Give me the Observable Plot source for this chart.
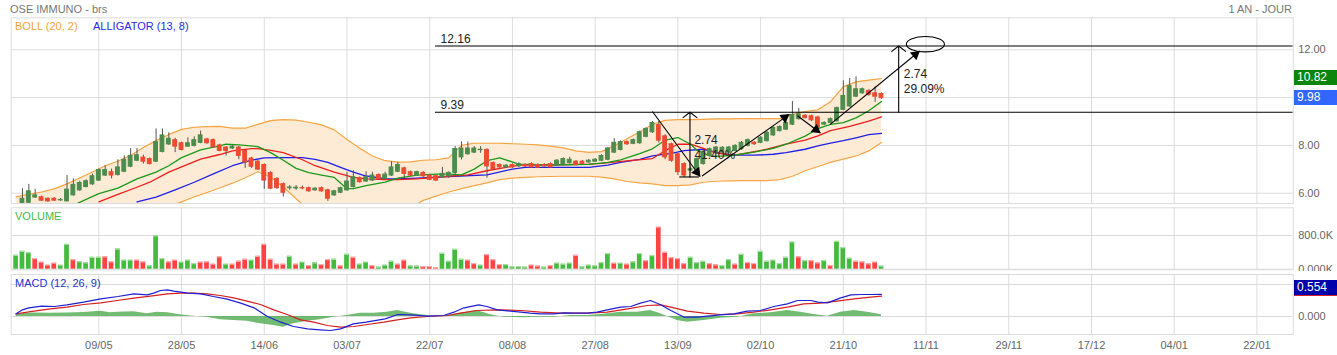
<!DOCTYPE html>
<html>
<head>
<meta charset="utf-8">
<script src="https://cdn.jsdelivr.net/npm/d3@7"></script>
<script src="https://cdn.jsdelivr.net/npm/@observablehq/plot@0.6"></script>
<style>
html,body{margin:0;padding:0;background:#fff;overflow:hidden;}
#wrap{position:relative;width:1337px;height:355px;background:#fff;font-family:"Liberation Sans",Arial,sans-serif;}
#wrap svg{position:absolute;left:0;}
.t{position:absolute;white-space:nowrap;font-size:11px;line-height:14px;}
.box{position:absolute;left:1294px;width:43px;height:15px;line-height:15px;color:#fff;font-size:12px;padding-left:3px;box-sizing:border-box;}
</style>
</head>
<body>
<div id="wrap"></div>
<script>
// ---------- DATA ----------
const xTickIdx = [13,26,39,52,65,78,91,104,117,130,143,156,169,182,195];
const xTickLabels = ["09/05","28/05","14/06","03/07","22/07","08/08","27/08","13/09","02/10","21/10","11/11","29/11","17/12","04/01","22/01"];

const opens = [5.30,5.50,5.60,5.82,5.83,5.77,5.77,5.70,5.66,5.91,
6.12,6.26,6.37,6.53,6.74,6.88,6.76,6.90,7.11,7.36,
7.49,7.43,7.32,7.73,8.04,8.22,8.09,7.95,7.98,8.11,
8.25,8.22,8.00,7.91,7.87,7.91,7.77,7.45,7.32,7.18,
6.85,6.60,6.38,6.21,6.20,6.22,6.21,6.12,6.21,6.12,
5.91,6.02,6.12,6.26,6.63,6.49,6.53,6.76,6.60,6.74,
6.90,7.04,6.88,6.74,6.85,6.74,6.71,6.67,6.71,6.85,
7.50,7.63,7.70,7.80,7.81,7.26,7.18,7.08,7.18,7.12,
7.18,7.22,7.18,7.18,7.22,7.18,7.18,7.26,7.32,7.32,
7.29,7.32,7.36,7.40,7.70,7.81,8.14,8.07,8.09,8.36,
8.55,8.85,8.38,8.05,7.63,7.22,6.95,7.00,7.22,7.56,
7.70,7.70,7.70,7.77,7.84,7.98,8.11,8.11,8.18,8.42,
8.60,8.66,8.87,9.10,9.24,9.22,9.17,8.87,8.94,9.01,
9.49,9.63,10.04,10.18,10.28,10.18,10.15];
const highs = [5.55,6.19,6.37,6.16,5.88,5.80,5.82,5.78,6.74,6.60,
6.50,6.56,6.80,7.02,7.15,7.01,7.40,7.56,7.87,7.87,
7.59,7.48,8.69,8.69,8.53,8.30,8.14,8.32,8.36,8.60,
8.30,8.27,8.05,7.96,8.00,7.96,7.82,7.50,7.37,7.23,
6.90,6.65,6.43,6.32,6.32,6.30,6.26,6.23,6.26,6.17,
6.12,6.25,6.88,6.94,6.68,6.90,6.88,6.81,6.88,7.32,
7.29,7.09,6.93,6.92,6.90,6.79,6.76,7.08,6.89,7.95,
8.15,8.14,7.95,7.95,7.86,7.31,7.23,7.20,7.23,7.27,
7.23,7.27,7.23,7.23,7.27,7.41,7.48,7.50,7.37,7.37,
7.41,7.45,7.61,7.92,8.28,8.19,8.19,8.27,8.60,8.74,
9.00,9.00,8.45,8.10,7.68,7.27,7.10,7.48,7.75,7.89,
7.96,7.95,7.96,8.03,8.16,8.27,8.16,8.37,8.58,8.78,
8.82,8.99,9.84,9.55,9.29,9.27,9.22,8.99,9.15,9.61,
10.70,10.80,10.87,10.40,10.33,10.46,10.20];
const lows = [5.25,5.45,5.55,5.78,5.65,5.62,5.66,5.66,5.63,5.88,
6.08,6.22,6.33,6.49,6.70,6.60,6.72,6.86,7.07,7.32,
7.22,7.18,7.28,7.69,8.00,7.70,7.77,7.91,7.94,8.07,
8.05,7.88,7.73,7.56,7.83,7.40,7.04,7.04,6.95,6.16,
6.15,6.17,5.84,6.12,6.12,6.14,6.04,6.08,6.04,5.66,
5.87,5.98,6.08,6.22,6.42,6.45,6.49,6.56,6.56,6.70,
6.86,6.60,6.70,6.70,6.67,6.52,6.49,6.63,6.62,6.72,
7.39,7.59,7.66,7.67,6.63,6.97,7.04,7.04,7.04,7.08,
7.08,7.04,7.03,7.08,7.04,7.14,7.14,7.22,7.14,7.19,
7.25,7.28,7.32,7.36,7.66,7.77,8.00,8.03,8.05,8.32,
8.50,8.10,7.40,7.30,6.74,6.66,6.90,6.96,7.18,7.52,
7.66,7.66,7.66,7.73,7.80,7.94,8.00,8.07,8.14,8.38,
8.56,8.62,8.83,9.06,9.10,9.00,8.60,8.83,8.90,8.97,
9.45,9.59,10.00,10.14,10.06,9.80,9.93];
const closes = [5.50,5.77,6.08,5.91,5.69,5.66,5.69,5.72,6.15,6.35,
6.43,6.50,6.71,6.97,6.97,6.74,7.08,7.40,7.56,7.59,
7.32,7.22,8.14,8.42,8.28,7.95,7.81,8.09,8.22,8.42,
8.09,7.92,7.77,7.77,7.95,7.56,7.29,7.11,6.99,6.53,
6.19,6.21,6.02,6.24,6.23,6.20,6.08,6.19,6.08,5.77,
6.08,6.21,6.49,6.67,6.46,6.67,6.74,6.60,6.78,7.08,
7.18,6.81,6.74,6.88,6.71,6.56,6.53,6.81,6.85,7.85,
7.87,7.87,7.87,7.82,7.12,7.01,7.08,7.15,7.08,7.22,
7.12,7.08,7.07,7.12,7.08,7.36,7.43,7.40,7.18,7.23,
7.36,7.40,7.56,7.87,8.11,8.14,8.05,8.22,8.55,8.69,
8.94,8.20,7.50,7.36,6.88,6.74,7.00,7.43,7.70,7.84,
7.91,7.90,7.91,7.98,8.11,8.22,8.05,8.32,8.53,8.73,
8.77,8.94,9.28,9.30,9.15,9.05,8.75,8.94,9.10,9.56,
10.07,10.48,10.35,10.35,10.11,10.04,9.98];

// volume in thousands, and up(1)/down(0)
const volumesK = [329,424,392,251,165,94,141,94,588,227,
180,149,282,282,290,172,478,212,212,212,
172,78,792,251,172,212,165,212,133,165,
172,118,290,118,118,188,235,212,306,588,
235,118,118,306,118,165,86,149,110,227,
235,78,353,282,118,165,86,47,94,188,
118,212,78,71,63,63,31,376,188,470,
235,212,133,94,345,227,110,110,55,63,
47,94,71,47,86,141,118,141,329,55,
94,78,157,369,141,141,118,172,369,204,
322,996,400,275,251,133,282,157,188,133,
102,86,227,118,353,157,133,424,188,212,
133,282,643,290,204,204,149,204,86,659,
510,259,188,172,125,165,71];
const volUp = [1,1,1,0,0,0,0,1,1,0,
1,1,1,1,0,0,1,1,1,0,
0,1,1,1,0,0,1,1,1,0,
0,0,0,1,0,0,0,1,0,0,
0,0,0,1,0,1,0,1,0,0,
1,0,1,0,1,1,0,1,1,1,
0,0,1,1,0,0,0,1,1,1,
1,0,0,1,0,0,0,1,1,1,
1,0,0,1,0,1,1,1,0,1,
1,1,1,1,0,1,0,1,1,0,
1,0,0,0,0,0,1,1,1,0,
0,1,1,0,1,0,0,1,1,1,
1,1,1,0,1,0,0,1,0,1,
1,1,0,0,0,0,1];

// Bollinger (20,2)
const bollIdx = [0,2,4,6,8,10,12,14,16,18,20,22,24,26,28,30,32,34,36,38,40,42,44,46,48,50,52,54,56,58,60,62,64,66,68,70,72,74,76,78,80,82,84,86,88,90,92,94,96,98,100,102,104,106,108,110,112,114,116,118,120,122,124,126,128,130,132,134,136];
const bollUpper = [5.85,5.95,6.05,6.18,6.39,6.64,6.89,7.15,7.34,7.58,
7.91,8.20,8.45,8.67,8.76,8.79,8.80,8.72,8.72,8.88,
9.04,9.08,9.06,8.97,8.86,8.65,8.25,7.88,7.56,7.36,
7.30,7.31,7.38,7.40,7.48,8.00,8.09,8.09,8.09,8.07,
8.05,8.02,7.97,7.90,7.77,7.71,7.74,7.98,8.28,8.56,
8.88,9.05,9.08,9.08,9.09,9.11,9.11,9.12,9.12,9.12,
9.12,9.29,9.42,9.49,9.83,10.45,10.66,10.73,10.80];
const bollLower = [5.30,5.25,5.20,5.15,5.05,5.00,4.95,4.92,4.95,5.02,
5.10,5.25,5.45,5.64,5.85,6.03,6.22,6.42,6.65,6.90,
6.67,6.26,5.77,5.30,5.05,4.95,4.95,5.00,5.05,5.15,
5.25,5.40,5.70,5.88,6.05,6.19,6.32,6.43,6.57,6.63,
6.66,6.69,6.70,6.71,6.71,6.71,6.67,6.60,6.49,6.43,
6.39,6.32,6.32,6.35,6.46,6.50,6.52,6.53,6.53,6.53,
6.57,6.71,6.94,7.12,7.29,7.43,7.56,7.77,8.12];

// Alligator (13, 8)
const lipsIdx = [9,13,16,19,22,24,26,29,32,33,35,38,40,42,44,46,48,50,52,53,55,58,60,63,66,68,70,72,74,76,79,84,90,93,95,98,100,102,104,106,107,109,111,113,116,119,121,124,126,128,130,132,134,136];
const lipsVal = [5.50,5.98,6.21,6.60,6.88,7.15,7.49,7.81,7.98,8.05,8.02,7.95,7.70,7.38,7.04,6.86,6.76,6.66,6.19,6.19,6.32,6.46,6.63,6.76,6.80,6.80,6.77,7.01,7.36,7.48,7.22,7.18,7.21,7.29,7.40,7.66,7.86,8.22,8.33,8.05,7.80,7.56,7.55,7.60,7.72,7.88,8.05,8.39,8.70,8.88,8.95,9.15,9.45,9.84];
const teethIdx = [13,16,19,21,24,26,29,32,34,37,38,40,42,45,47,50,53,55,58,60,63,66,68,71,74,77,79,84,90,92,96,100,102,104,106,108,110,113,118,121,124,126,128,131,134,136];
const teethVal = [5.64,5.95,6.25,6.46,6.88,7.10,7.43,7.62,7.77,7.87,7.87,7.79,7.70,7.40,7.15,6.88,6.66,6.60,6.57,6.57,6.60,6.66,6.71,6.77,6.94,7.08,7.18,7.18,7.22,7.25,7.35,7.45,7.78,8.05,8.05,7.88,7.68,7.59,7.84,8.05,8.22,8.40,8.62,8.80,9.02,9.19];
const jawIdx = [19,22,25,28,31,34,37,39,42,45,47,49,51,53,55,58,60,63,66,69,74,78,80,85,90,93,95,98,100,103,105,108,111,113,116,119,121,124,126,128,130,132,134,136];
const jawVal = [5.64,5.84,6.14,6.46,6.81,7.15,7.38,7.48,7.49,7.49,7.42,7.29,7.08,6.88,6.72,6.61,6.60,6.63,6.67,6.71,6.77,7.01,7.08,7.08,7.08,7.18,7.29,7.42,7.56,7.67,7.78,7.84,7.66,7.59,7.59,7.63,7.70,7.84,7.98,8.10,8.20,8.32,8.45,8.50];

// MACD (12, 26, 9)
const macdIdx = [0,1,2,4,6,8,10.6,13.3,16,18.5,20.6,21.6,22.7,23.8,24.8,27,29,31,33,35.3,37.4,39.5,41.6,43.6,45.8,47.8,49.4,51,53,55,58,60,62,64.6,67.2,68.8,70.4,72.7,74,75.6,77.7,79.3,80.8,82.4,84.5,86.1,87.7,89.8,91.3,92.9,95,96.6,98.1,99.7,101.3,102.9,105,107.1,108.6,110.7,112.8,114.9,117,119.1,121.2,122.8,124.9,126,127.5,129.6,131.2,132.8,134.3,136];
const macdVal = [0.07,0.167,0.217,0.258,0.25,0.292,0.358,0.442,0.5,0.567,0.542,0.583,0.65,0.667,0.633,0.583,0.567,0.5,0.442,0.333,0.217,0,-0.142,-0.25,-0.308,-0.333,-0.35,-0.308,-0.183,-0.142,-0.058,0.05,0.042,0.008,0.025,0.108,0.217,0.292,0.25,0.167,0.133,0.108,0.083,0.067,0.067,0.092,0.083,0.083,0.108,0.167,0.233,0.25,0.333,0.4,0.292,0.15,-0.017,-0.017,0.008,0.042,0.067,0.133,0.15,0.25,0.317,0.4,0.4,0.358,0.342,0.467,0.542,0.55,0.55,0.554];
const signalIdx = [0,2.8,5.4,8,10.6,13.3,15.9,18.5,21.1,23.8,25.8,27.9,30,32.1,34.2,36.3,38.4,40.5,42.6,44.7,46.8,48.9,51,53.1,55.2,57.8,59.9,62,64.6,67.8,69.8,72.4,75.6,79.3,82.4,85.6,89.8,92.9,96.1,99.2,101.3,103.4,105.5,108.1,110.7,113.3,115.9,118.6,121.2,123.8,126.4,129,131.7,134.3,136];
const signalVal = [0.067,0.133,0.192,0.233,0.3,0.342,0.4,0.458,0.508,0.567,0.583,0.583,0.567,0.525,0.467,0.383,0.3,0.167,0.05,-0.083,-0.142,-0.225,-0.267,-0.25,-0.2,-0.142,-0.083,-0.033,0,0.025,0.083,0.15,0.167,0.15,0.108,0.083,0.083,0.108,0.192,0.275,0.292,0.217,0.133,0.083,0.05,0.067,0.108,0.167,0.233,0.317,0.333,0.383,0.442,0.483,0.508];
const histIdx = [0,2.8,5.4,8,10.6,13.3,14.8,16,18.5,20.6,22.2,23.8,25.8,27.9,30,32.1,34.2,36.3,38.4,40.5,42,43.6,45.8,47.8,49.9,52,54.1,56.2,58.3,59.9,62,63.6,65.6,67.8,69.8,72.4,74.6,76.7,79.3,81.9,84.5,87.1,89.8,91.9,95,97.6,99.7,101.3,103.9,105.5,108.1,110.7,113.3,115.9,118.6,121.2,123.3,125.4,127.5,129.6,131.7,133.8,136];
const histVal = [0.06,0.09,0.083,0.09,0.1,0.133,0.092,0.108,0.117,0.067,0.108,0.092,0.042,0.008,-0.017,-0.083,-0.1,-0.117,-0.183,-0.225,-0.267,-0.183,-0.117,-0.083,-0.017,0.025,0.083,0.083,0.108,0.15,0.083,0.042,0.008,0.025,0.083,0.15,0.042,-0.017,-0.033,-0.017,-0.017,0.025,0.025,0.05,0.108,0.108,0.15,0.067,-0.1,-0.142,-0.1,-0.042,-0.017,0.067,0.092,0.15,0.108,0.05,0.008,0.108,0.15,0.108,0.042];

// axis ticks (grid) and the tick labels left visible (others sit under value boxes)
const priceGrid = [6, 8, 10, 12];
const priceLabels = [6, 8, 12];
const volTicks = [0, 800000];
const macdGrid = [0, 0.8];
const macdLabels = [0];

// drawn annotations (data units: trading-day index, price)
const levelVals = [12.16, 9.39];
const levelStart = 65.9;
const trendX1 = [100, 107.8, 122.8, 127.9];
const trendY1 = [9.42, 6.72, 9.24, 8.87];
const trendX2 = [107.5, 121.5, 126.4, 142];
const trendY2 = [6.70, 9.30, 8.52, 11.95];
const measureX = [105.9, 138.7];
const measureFrom = [6.68, 9.39];
const measureTo = [9.39, 12.16];
const measureLabelX = [106.6, 139.5];
const measureLabelY1 = [8.21, 11.0];
const measureLabelY2 = [7.60, 10.37];
const measureDiff = ["2.74", "2.74"];
const measurePct = ["41.40%", "29.09%"];
const circleAt = {x: 142.9, y: 12.235};
const lastBoll = 10.82, lastClose = 9.98, lastMacd = 0.554;

// ---------- LAYOUT ----------
const W = 1337;
const ML = 10.7, MR = W - 1292.7;
const xDomain = [-0.77, 200.7];
const gridC = "#dcdcdc";
const font = "'Liberation Sans', Arial, sans-serif";
const wrap = document.getElementById("wrap");

const candles = opens.map((o, i) => ({i, open: o, high: highs[i], low: lows[i], close: closes[i]}));
const boll = bollIdx.map((i, k) => ({i, up: bollUpper[k], lo: bollLower[k]}));
const lips = lipsIdx.map((i, k) => ({i, v: lipsVal[k]}));
const teeth = teethIdx.map((i, k) => ({i, v: teethVal[k]}));
const jaw = jawIdx.map((i, k) => ({i, v: jawVal[k]}));
const vols = volumesK.map((v, i) => ({i, v: v * 1000, up: volUp[i]}));
const macd = macdIdx.map((i, k) => ({i, v: macdVal[k]}));
const signal = signalIdx.map((i, k) => ({i, v: signalVal[k]}));
const hist = histIdx.map((i, k) => ({i, v: histVal[k]}));
const trends = trendX1.map((x1, k) => ({x1, y1: trendY1[k], x2: trendX2[k], y2: trendY2[k]}));
const measures = measureX.map((x, k) => ({x, y1: measureFrom[k], y2: measureTo[k]}));
const measureTexts = [];
measureX.forEach((x, k) => {
  measureTexts.push({x: measureLabelX[k], y: measureLabelY1[k], t: measureDiff[k]});
  measureTexts.push({x: measureLabelX[k], y: measureLabelY2[k], t: measurePct[k]});
});

const yMain = [5.57, 13.34];
const PX_X = (1292.7 - 10.7) / (xDomain[1] - xDomain[0]);
const PX_Y = (203 - 17.3) / (yMain[1] - yMain[0]);
const heads = trends.map(a => {
  const ux = (a.x2 - a.x1) * PX_X, uy = (a.y2 - a.y1) * PX_Y, L = Math.hypot(ux, uy);
  return {x: a.x2 - 5.5 * (ux / L) / PX_X, y: a.y2 - 5.5 * (uy / L) / PX_Y, rot: Math.atan2(ux, uy) * 180 / Math.PI};
});

const ellipseSymbol = {
  draw(ctx, size) {
    const ry = Math.sqrt(size / Math.PI), rx = ry * 2.47, k = 0.5523;
    ctx.moveTo(rx, 0);
    ctx.bezierCurveTo(rx, ry * k, rx * k, ry, 0, ry);
    ctx.bezierCurveTo(-rx * k, ry, -rx, ry * k, -rx, 0);
    ctx.bezierCurveTo(-rx, -ry * k, -rx * k, -ry, 0, -ry);
    ctx.bezierCurveTo(rx * k, -ry, rx, -ry * k, rx, 0);
    ctx.closePath();
  }
};

const baseStyle = {background: "transparent", fontFamily: font, fontSize: "11px", color: "#666"};
const GREEN = "#4c8c4c", RED = "#ee4a30";

// ---------- MAIN PRICE PANEL ----------
const main = Plot.plot({
  width: W, height: 205,
  marginTop: 17.3, marginBottom: 2, marginLeft: ML, marginRight: MR,
  style: baseStyle,
  x: {domain: xDomain, axis: null},
  y: {domain: yMain, axis: "right", ticks: priceLabels, tickFormat: d3.format(".2f"), tickSize: 0, tickPadding: 5, label: null},
  marks: [
    Plot.ruleX(xTickIdx, {stroke: gridC}),
    Plot.ruleY(priceGrid, {stroke: gridC}),
    Plot.areaY(boll, {x: "i", y1: "lo", y2: "up", fill: "#fdebd6", clip: true}),
    Plot.line(boll, {x: "i", y: "up", stroke: "#f7a542", strokeWidth: 1.2, clip: true}),
    Plot.line(boll, {x: "i", y: "lo", stroke: "#f7a542", strokeWidth: 1.2, clip: true}),
    Plot.line(jaw, {x: "i", y: "v", stroke: "#1f1fe6", strokeWidth: 1.3, clip: true}),
    Plot.line(teeth, {x: "i", y: "v", stroke: "#ec1f1f", strokeWidth: 1.3, clip: true}),
    Plot.line(lips, {x: "i", y: "v", stroke: "#1a991a", strokeWidth: 1.3, clip: true}),
    Plot.ruleX(candles, {x: "i", y1: "low", y2: "high", stroke: "#555", strokeWidth: 1, clip: true}),
    Plot.rect(candles, {x1: d => d.i - 0.3, x2: d => d.i + 0.3, y1: "open", y2: "close",
      fill: d => d.close >= d.open ? GREEN : RED, stroke: d => d.close >= d.open ? GREEN : RED, strokeWidth: 1, clip: true}),
    Plot.ruleY(levelVals, {y: d => d, x1: levelStart, x2: xDomain[1], stroke: "#000", strokeWidth: 1.1}),
    Plot.text(levelVals, {x: levelStart + 0.8, y: d => d, text: d => d.toFixed(2), textAnchor: "start", dy: -7, fontSize: 12, fill: "#222"}),
    Plot.link(trends, {x1: "x1", y1: "y1", x2: "x2", y2: "y2", stroke: "#000", strokeWidth: 1.1}),
    Plot.dot(heads, {x: "x", y: "y", rotate: "rot", symbol: "triangle", r: 3.8, fill: "#000", stroke: "none"}),
    Plot.arrow(measures, {x1: "x", y1: "y1", x2: "x", y2: "y2", stroke: "#000", strokeWidth: 1.1, headAngle: 104, headLength: 12}),
    Plot.ruleY([measureFrom[0]], {y: d => d, x1: measureX[0] - 1.6, x2: measureX[0] + 1.5, stroke: "#000", strokeWidth: 1.1}),
    Plot.text(measureTexts, {x: "x", y: "y", text: "t", textAnchor: "start", fontSize: 12, fill: "#222"}),
    Plot.dot([circleAt], {x: "x", y: "y", r: 7.7, symbol: ellipseSymbol, stroke: "#000", fill: "none", strokeWidth: 1.1}),
    Plot.frame({stroke: gridC})
  ]
});
main.style.top = "0px";
wrap.appendChild(main);

// ---------- VOLUME PANEL ----------
const vol = Plot.plot({
  width: W, height: 65.5,
  marginTop: 2.3, marginBottom: 1.2, marginLeft: ML, marginRight: MR,
  style: baseStyle,
  x: {domain: xDomain, axis: null},
  y: {domain: [-14243, 1457600], axis: "right", ticks: volTicks,
      tickFormat: d => d === 0 ? "0.000K" : (d / 1000).toFixed(1) + "K", tickSize: 0, tickPadding: 5, label: null},
  marks: [
    Plot.ruleX(xTickIdx, {stroke: gridC}),
    Plot.ruleY(volTicks, {stroke: gridC}),
    Plot.rect(vols, {x1: d => d.i - 0.37, x2: d => d.i + 0.37, y1: 0, y2: "v", fill: d => d.up ? "#44bb3f" : "#ff4242", clip: true}),
    Plot.ruleY(vols, {y: "v", x1: d => d.i - 0.37, x2: d => d.i + 0.37, stroke: d => d.up ? "#a6dea3" : "#ffaaaa", strokeWidth: 1.2, clip: true}),
    Plot.frame({stroke: gridC})
  ]
});
vol.style.top = "205px";
wrap.appendChild(vol);

// ---------- MACD PANEL ----------
const mac = Plot.plot({
  width: W, height: 84,
  marginTop: 3, marginBottom: 21, marginLeft: ML, marginRight: MR,
  style: baseStyle,
  x: {domain: xDomain, axis: "bottom", ticks: xTickIdx, tickFormat: d => xTickLabels[xTickIdx.indexOf(d)], tickSize: 0, tickPadding: 7, label: null},
  y: {domain: [-0.45, 1.05], axis: "right", ticks: macdLabels, tickFormat: d3.format(".3f"), tickSize: 0, tickPadding: 5, label: null},
  marks: [
    Plot.ruleX(xTickIdx, {stroke: gridC}),
    Plot.ruleY(macdGrid, {stroke: gridC}),
    Plot.areaY(hist, {x: "i", y: "v", fill: "#4aa84a", fillOpacity: 0.78, clip: true}),
    Plot.line(signal, {x: "i", y: "v", stroke: "#d42020", strokeWidth: 1.2, clip: true}),
    Plot.line(macd, {x: "i", y: "v", stroke: "#2020d4", strokeWidth: 1.2, clip: true}),
    Plot.frame({stroke: gridC})
  ]
});
mac.style.top = "271px";
wrap.appendChild(mac);

// ---------- TEXT OVERLAYS ----------
function addText(txt, x, yc, color, opts = {}) {
  const d = document.createElement("div");
  d.className = "t";
  d.textContent = txt;
  d.style.top = (yc - 7) + "px";
  d.style.color = color;
  if (opts.right != null) d.style.right = opts.right + "px"; else d.style.left = x + "px";
  if (opts.size) d.style.fontSize = opts.size;
  wrap.appendChild(d);
}
addText("OSE IMMUNO - brs", 10, 9, "#777");
addText("1 AN - JOUR", 0, 9, "#777", {right: W - 1292});
addText("BOLL (20, 2)", 15, 25.5, "#f5a23e");
addText("ALLIGATOR (13, 8)", 93, 25.5, "#2a2ae8");
addText("VOLUME", 15, 216, "#44bb3f");
addText("MACD (12, 26, 9)", 15, 282.5, "#2233cc");

function addBox(txt, yc, bg, extra) {
  const d = document.createElement("div");
  d.className = "box";
  d.textContent = txt;
  d.style.top = (yc - 7.5) + "px";
  d.style.background = bg;
  if (extra) Object.assign(d.style, extra);
  wrap.appendChild(d);
}
const yS = main.scale("y");
addBox(lastBoll.toFixed(2), yS.apply(lastBoll), "#0b850b");
addBox(lastClose.toFixed(2), yS.apply(lastClose), "#3366ff");
const mS = mac.scale("y");
addBox(lastMacd.toFixed(3), 271 + mS.apply(lastMacd) - 6, "#0000aa", {borderBottom: "1px solid #d42020", height: "16px"});
</script>
</body>
</html>
